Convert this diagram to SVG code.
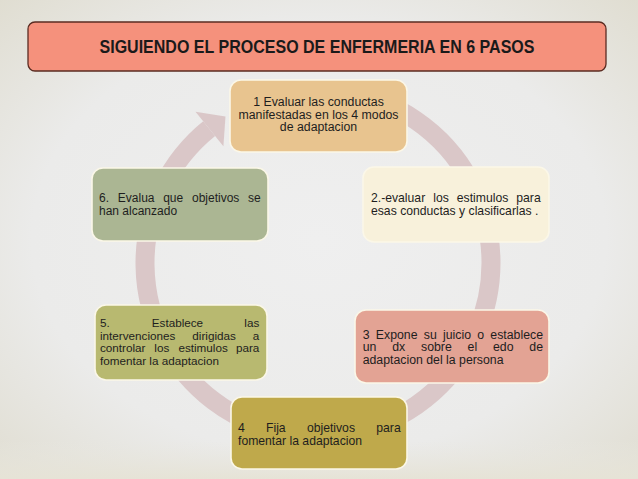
<svg xmlns="http://www.w3.org/2000/svg" width="638" height="479" viewBox="0 0 638 479">
<defs>
<radialGradient id="bg" cx="50%" cy="50%" r="75%">
<stop offset="0" stop-color="#efefef"/>
<stop offset="0.6" stop-color="#ebebea"/>
<stop offset="1" stop-color="#dedbcd"/>
</radialGradient>
<linearGradient id="bot" x1="0" y1="0" x2="0" y2="1">
<stop offset="0" stop-color="#e9e8e2" stop-opacity="0"/>
<stop offset="1" stop-color="#e6e3d6"/>
</linearGradient>
</defs>
<style>
.node{stroke:#fbf7e8;stroke-width:1.6}
.t{font-family:"Liberation Sans",Arial,sans-serif;font-size:12.2px;fill:#1e1e1e}
.ring{fill:none;stroke:#dac7c8;stroke-width:19}
</style>
<rect x="0" y="0" width="638" height="479" fill="url(#bg)"/>
<rect x="0" y="440" width="638" height="39" fill="url(#bot)"/>
<g id="title">
<rect x="28" y="22" width="578" height="49" rx="7" fill="#f5917c" stroke="#5b2c22" stroke-width="1.3"/>
<text x="317" y="53" text-anchor="middle" textLength="435" lengthAdjust="spacingAndGlyphs" style="font-family:'Liberation Sans',Arial,sans-serif;font-size:18px;font-weight:bold;fill:#1a1a1a">SIGUIENDO EL PROCESO DE ENFERMERIA  EN 6 PASOS</text>
</g>
<g id="connectors">
<path class="ring" d="M348.04 92.63 A173 173 0 1 1 209.13 128.56"/>
<polygon points="195.5,111.8 225.5,116.5 223.4,146.2" fill="#dac7c8"/>
</g>
<g id="node1">
<rect class="node" x="230" y="80" width="177" height="72" rx="11" fill="#e8c48f"/>
<text class="t" text-anchor="middle" style="font-size:12.3px"><tspan x="318.5" y="105.5">1 Evaluar las conductas</tspan><tspan x="318.5" y="118.5">manifestadas en los 4 modos</tspan><tspan x="318.5" y="131">de adaptacion</tspan></text>
</g>
<g id="node2">
<rect class="node" x="363" y="167" width="186" height="75" rx="11" fill="#f8f1db"/>
<text class="t"><tspan x="371" y="202">2.-evaluar</tspan><tspan x="433.2" y="202">los</tspan><tspan x="456.8" y="202">estimulos</tspan><tspan x="516.3" y="202">para</tspan><tspan x="371" y="215">esas conductas y clasificarlas .</tspan></text>
</g>
<g id="node3">
<rect class="node" x="355" y="310" width="194" height="73" rx="11" fill="#e3a394"/>
<text class="t" style="font-size:12.3px"><tspan x="362.7" y="338.5">3</tspan><tspan x="375.8" y="338.5">Expone</tspan><tspan x="423.75" y="338.5">su</tspan><tspan x="443" y="338.5">juicio</tspan><tspan x="477.3" y="338.5">o</tspan><tspan x="490.35" y="338.5">establece</tspan><tspan x="362.7" y="351">un</tspan><tspan x="392.2" y="351">dx</tspan><tspan x="421" y="351">sobre</tspan><tspan x="467.6" y="351">el</tspan><tspan x="493" y="351">edo</tspan><tspan x="529.3" y="351">de</tspan><tspan x="362.7" y="363.5">adaptacion del la persona</tspan></text>
</g>
<g id="node4">
<rect class="node" x="231" y="397" width="176" height="72" rx="11" fill="#bfa94b"/>
<text class="t"><tspan x="238" y="431.5">4</tspan><tspan x="266" y="431.5">Fija</tspan><tspan x="306.9" y="431.5">objetivos</tspan><tspan x="376.3" y="431.5">para</tspan><tspan x="238" y="444.5">fomentar la adaptacion</tspan></text>
</g>
<g id="node5">
<rect class="node" x="95" y="305" width="172" height="75" rx="11" fill="#b8b970"/>
<text class="t" style="font-size:11.7px"><tspan x="100" y="327">5.</tspan><tspan x="151.8" y="327">Establece</tspan><tspan x="244.3" y="327">las</tspan><tspan x="100" y="339.7">intervenciones</tspan><tspan x="192.3" y="339.7">dirigidas</tspan><tspan x="252.8" y="339.7">a</tspan><tspan x="100" y="352.4">controlar</tspan><tspan x="154.3" y="352.4">los</tspan><tspan x="178.4" y="352.4">estimulos</tspan><tspan x="235.9" y="352.4">para</tspan><tspan x="100" y="365">fomentar la adaptacion</tspan></text>
</g>
<g id="node6">
<rect class="node" x="92" y="168" width="176" height="73" rx="11" fill="#abb693"/>
<text class="t" style="font-size:12px"><tspan x="99" y="202">6.</tspan><tspan x="117.8" y="202">Evalua</tspan><tspan x="163.2" y="202">que</tspan><tspan x="192" y="202">objetivos</tspan><tspan x="248.1" y="202">se</tspan><tspan x="99" y="215">han alcanzado</tspan></text>
</g>
</svg>
